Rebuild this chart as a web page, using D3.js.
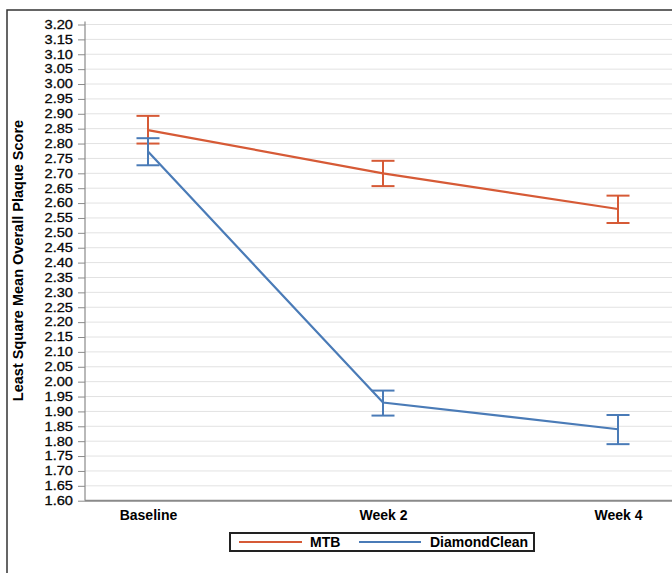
<!DOCTYPE html>
<html>
<head>
<meta charset="utf-8">
<script src="https://cdn.jsdelivr.net/npm/d3@7"></script>
<style>
  html, body { margin: 0; padding: 0; background: #fff; }
  svg { display: block; }
  text { font-family: "Liberation Sans", Arial, Helvetica, sans-serif; fill: #000; }
</style>
</head>
<body>
<svg id="chart" width="672" height="573"></svg>
<script>
// ---- data ----
const categories = ["Baseline", "Week 2", "Week 4"];
const seriesNames = ["MTB", "DiamondClean"];
const mtbMean  = [2.845, 2.700, 2.580];
const mtbLower = [2.800, 2.657, 2.533];
const mtbUpper = [2.893, 2.742, 2.625];
const dcMean   = [2.773, 1.930, 1.840];
const dcLower  = [2.727, 1.886, 1.790];
const dcUpper  = [2.818, 1.970, 1.888];
const yTicks = [1.60,1.65,1.70,1.75,1.80,1.85,1.90,1.95,2.00,2.05,2.10,2.15,2.20,2.25,2.30,2.35,2.40,2.45,2.50,2.55,2.60,2.65,2.70,2.75,2.80,2.85,2.90,2.95,3.00,3.05,3.10,3.15,3.20];
const yTitle = "Least Square Mean Overall Plaque Score";

const colors = { "MTB": "#d65a36", "DiamondClean": "#4a7bb7" };

const series = [
  { name: "MTB", mean: mtbMean, lower: mtbLower, upper: mtbUpper },
  { name: "DiamondClean", mean: dcMean, lower: dcLower, upper: dcUpper }
];

// ---- layout ----
const svg = d3.select("#chart");
svg.append("rect").attr("width", 672).attr("height", 573).attr("fill", "#fff");

// outer frame (extends beyond the visible window on right/bottom)
svg.append("rect")
  .attr("x", 7).attr("y", 10).attr("width", 720).attr("height", 620)
  .attr("fill", "none").attr("stroke", "#333").attr("stroke-width", 1.5);

const plotLeft = 85, plotRight = 681, plotTop = 24.5, plotBottom = 500.7;

const x = d3.scalePoint().domain(categories).range([plotLeft, plotRight]).padding(0.268);
const y = d3.scaleLinear().domain([1.60, 3.20]).range([plotBottom, plotTop]);

// gridlines
svg.append("g").selectAll("line").data(yTicks).join("line")
  .attr("x1", plotLeft).attr("x2", plotRight)
  .attr("y1", d => y(d)).attr("y2", d => y(d))
  .attr("stroke", "#e2e2e2").attr("stroke-width", 1);

// y axis
const yAxis = svg.append("g")
  .attr("transform", `translate(${plotLeft},0)`)
  .call(d3.axisLeft(y).tickValues(yTicks).tickFormat(d3.format(".2f")).tickSize(7).tickSizeOuter(0).tickPadding(4));
yAxis.select(".domain").attr("stroke", "#8a8a8a").attr("stroke-width", 1.2)
  .attr("d", `M0,${plotTop - 3}V${plotBottom}`);
yAxis.selectAll(".tick line").attr("stroke", "#8a8a8a");
const sx = 1.22;
yAxis.selectAll(".tick text")
  .attr("font-size", 12)
  .attr("font-family", "'Liberation Sans', Arial, sans-serif")
  .attr("x", -12 / sx)
  .attr("transform", `scale(${sx},1)`)
  .attr("fill", "#111")
  .attr("stroke", "#111").attr("stroke-width", 0.3);

// x axis
const xAxis = svg.append("g")
  .attr("transform", `translate(0,${plotBottom})`)
  .call(d3.axisBottom(x).tickSize(0).tickSizeOuter(0).tickPadding(9));
xAxis.select(".domain").attr("stroke", "#8a8a8a").attr("stroke-width", 2)
  .attr("d", `M${plotLeft},0H${plotRight}`);
xAxis.selectAll(".tick text")
  .attr("font-size", 14).attr("font-weight", "bold")
  .attr("font-family", "'Liberation Sans', Arial, sans-serif")
  .attr("fill", "#111");

// y title
svg.append("text")
  .attr("transform", `translate(23,260.5) rotate(-90)`)
  .attr("text-anchor", "middle")
  .attr("font-size", 14.5).attr("font-weight", "bold")
  .text(yTitle);

// series
const capHalf = 11.5;
series.forEach(s => {
  const g = svg.append("g");
  const col = colors[s.name];
  const line = d3.line().x((d, i) => x(categories[i])).y(d => y(d));
  g.append("path").datum(s.mean).attr("d", line)
    .attr("fill", "none").attr("stroke", col).attr("stroke-width", 2.2);
  categories.forEach((c, i) => {
    const cx = x(c);
    g.append("line").attr("x1", cx).attr("x2", cx)
      .attr("y1", y(s.lower[i])).attr("y2", y(s.upper[i]))
      .attr("stroke", col).attr("stroke-width", 2);
    [s.lower[i], s.upper[i]].forEach(v => {
      g.append("line").attr("x1", cx - capHalf).attr("x2", cx + capHalf)
        .attr("y1", y(v)).attr("y2", y(v))
        .attr("stroke", col).attr("stroke-width", 2);
    });
  });
});

// legend
const lg = svg.append("g");
lg.append("rect").attr("x", 230).attr("y", 533).attr("width", 304).attr("height", 18)
  .attr("fill", "#fff").attr("stroke", "#222").attr("stroke-width", 2);
const legendItems = [
  { name: seriesNames[0], x1: 239, x2: 302, tx: 310 },
  { name: seriesNames[1], x1: 359, x2: 421, tx: 430 }
];
legendItems.forEach(it => {
  lg.append("line").attr("x1", it.x1).attr("x2", it.x2).attr("y1", 542).attr("y2", 542)
    .attr("stroke", colors[it.name]).attr("stroke-width", 2);
  lg.append("text").attr("x", it.tx).attr("y", 547)
    .attr("font-size", 14).attr("font-weight", "bold").text(it.name);
});
</script>
</body>
</html>
